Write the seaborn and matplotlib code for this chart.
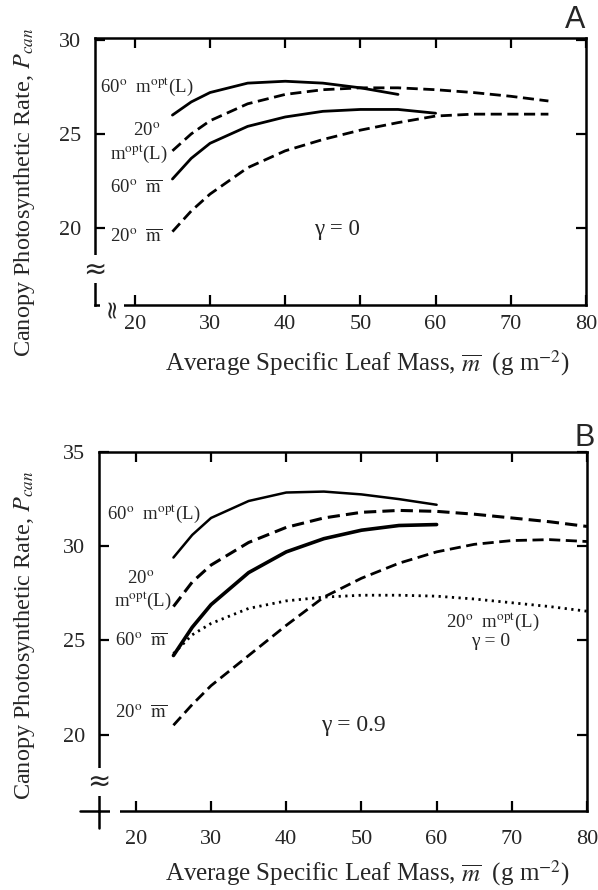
import numpy as np
import pandas as pd
import matplotlib
matplotlib.use("Agg")
import matplotlib.pyplot as plt
import matplotlib.transforms as mtransforms
import seaborn as sns

sns.set_style("ticks")
plt.rcParams['font.family'] = ['Liberation Serif', 'DejaVu Serif']
plt.rcParams['mathtext.fontset'] = 'stix'

# ---------------- data: panel A (gamma = 0) ----------------
a_opt60_x = [25, 27.5, 30, 35, 40, 45, 50, 55]
a_opt60_y = [26.0, 26.7, 27.2, 27.7, 27.8, 27.7, 27.45, 27.1]
a_opt20_x = [25, 27.5, 30, 35, 40, 45, 50, 55, 60, 65, 70, 75]
a_opt20_y = [24.1, 25.0, 25.7, 26.6, 27.1, 27.35, 27.45, 27.45, 27.35, 27.2, 27.0, 26.75]
a_bar60_x = [25, 27.5, 30, 35, 40, 45, 50, 55, 60]
a_bar60_y = [22.6, 23.7, 24.5, 25.4, 25.9, 26.2, 26.3, 26.3, 26.1]
a_bar20_x = [25, 27.5, 30, 35, 40, 45, 50, 55, 60, 65, 70, 75]
a_bar20_y = [19.8, 20.9, 21.8, 23.2, 24.1, 24.7, 25.2, 25.6, 25.95, 26.05, 26.05, 26.05]

# ---------------- data: panel B (gamma = 0.9) ----------------
b_opt60_x = [25, 27.5, 30, 35, 40, 45, 50, 55, 60]
b_opt60_y = [29.4, 30.6, 31.5, 32.4, 32.85, 32.9, 32.75, 32.5, 32.2]
b_opt20_x = [25, 27.5, 30, 35, 40, 45, 50, 55, 60, 65, 70, 75, 80]
b_opt20_y = [26.8, 28.1, 29.0, 30.2, 31.0, 31.5, 31.8, 31.9, 31.85, 31.7, 31.5, 31.3, 31.05]
b_bar60_x = [25, 27.5, 30, 35, 40, 45, 50, 55, 60]
b_bar60_y = [24.2, 25.7, 26.9, 28.6, 29.7, 30.4, 30.85, 31.1, 31.15]
b_opt20g0_x = [25, 27.5, 30, 35, 40, 45, 50, 55, 60, 65, 70, 75, 80]
b_opt20g0_y = [24.3, 25.3, 25.9, 26.7, 27.1, 27.3, 27.4, 27.4, 27.35, 27.2, 27.0, 26.8, 26.55]
b_bar20_x = [25, 27.5, 30, 35, 40, 45, 50, 55, 60, 65, 70, 75, 80]
b_bar20_y = [20.5, 21.6, 22.6, 24.2, 25.8, 27.3, 28.3, 29.1, 29.7, 30.1, 30.3, 30.35, 30.25]

x_ticks = [20, 30, 40, 50, 60, 70, 80]
a_y_ticks = [20, 25, 30]
b_y_ticks = [20, 25, 30, 35]

ylabel_text = r'Canopy Photosynthetic Rate, $P_{can}$'
xlabel_text = r'Average Specific Leaf Mass, $\overline{m}$  (g m$^{-2}$)'

fig = plt.figure(figsize=(5.98, 8.90), dpi=100)
axA = fig.add_axes([95/598, 1-305/890, (586-95)/598, (305-38)/890])
axB = fig.add_axes([99/598, 1-811/890, (587-99)/598, (811-452)/890])

SOLID = '-'
DASH = (0, (4, 2))
DOT = (0, (0.8, 1.6))

def draw(ax, x, y, ls, lw):
    df = pd.DataFrame({'x': x, 'y': y})
    sns.lineplot(data=df, x='x', y='y', ax=ax, color='black', linestyle=ls,
                 linewidth=lw, errorbar=None, estimator=None, sort=False)

draw(axA, a_opt60_x, a_opt60_y, SOLID, 2.0)
draw(axA, a_opt20_x, a_opt20_y, DASH, 2.0)
draw(axA, a_bar60_x, a_bar60_y, SOLID, 2.0)
draw(axA, a_bar20_x, a_bar20_y, DASH, 2.0)

draw(axB, b_opt60_x, b_opt60_y, SOLID, 1.8)
draw(axB, b_opt20_x, b_opt20_y, DASH, 2.2)
draw(axB, b_bar60_x, b_bar60_y, SOLID, 2.6)
draw(axB, b_opt20g0_x, b_opt20g0_y, DOT, 2.0)
draw(axB, b_bar20_x, b_bar20_y, DASH, 2.0)

def style(ax, ylim, yt, xpad):
    ax.set_xlim(14.7, 80)
    ax.set_ylim(*ylim)
    ax.set_xticks(x_ticks)
    ax.set_yticks(yt)
    ax.tick_params(direction='in', top=True, right=True, length=7, width=1.6,
                   labelsize=16, color='black')
    ax.tick_params(axis='x', pad=xpad)
    ax.tick_params(axis='y', pad=10)
    for s in ax.spines.values():
        s.set_linewidth(1.8)
        s.set_color('black')
        s.set_visible(True)
    ax.set_xlabel(xlabel_text, fontsize=18)
    ax.set_ylabel(ylabel_text, fontsize=17.5)

style(axA, (15.9, 30.1), a_y_ticks, 7)
style(axB, (15.95, 35.0), b_y_ticks, 14)
axB.set_xlim(15.1, 80)

axA.yaxis.set_label_coords(-0.118, 0.423)
axA.xaxis.set_label_coords(0.554, -0.161)
axB.yaxis.set_label_coords(-0.127, 0.49)
axB.xaxis.set_label_coords(0.551, -0.132)

fs = 13.5
# panel A annotations
axA.text(15.3, 27.5, r'60$^{\mathrm{o}}$  m$^{\mathrm{opt}}$(L)', fontsize=fs, ha='left', va='center')
axA.text(21.6, 25.15, r'20$^{\mathrm{o}}$', fontsize=fs, ha='center', va='center')
axA.text(24.3, 23.95, r'm$^{\mathrm{opt}}$(L)', fontsize=fs, ha='right', va='center')
axA.text(23.7, 22.1, r'60$^{\mathrm{o}}$  $\overline{\mathrm{m}}$', fontsize=fs, ha='right', va='center')
axA.text(23.7, 19.5, r'20$^{\mathrm{o}}$  $\overline{\mathrm{m}}$', fontsize=fs, ha='right', va='center')
axA.text(46.9, 19.9, 'γ = 0', fontsize=16.5, ha='center', va='center')

# panel B annotations
axB.text(16.2, 31.75, r'60$^{\mathrm{o}}$  m$^{\mathrm{opt}}$(L)', fontsize=fs, ha='left', va='center')
axB.text(20.7, 28.25, r'20$^{\mathrm{o}}$', fontsize=fs, ha='center', va='center')
axB.text(24.8, 27.1, r'm$^{\mathrm{opt}}$(L)', fontsize=fs, ha='right', va='center')
axB.text(24.2, 24.95, r'60$^{\mathrm{o}}$  $\overline{\mathrm{m}}$', fontsize=fs, ha='right', va='center')
axB.text(24.2, 21.15, r'20$^{\mathrm{o}}$  $\overline{\mathrm{m}}$', fontsize=fs, ha='right', va='center')
axB.text(61.2, 26.0, r'20$^{\mathrm{o}}$  m$^{\mathrm{opt}}$(L)', fontsize=fs, ha='left', va='center')
axB.text(67.2, 24.95, 'γ = 0', fontsize=14, ha='center', va='center')
axB.text(48.9, 20.5, 'γ = 0.9', fontsize=17, ha='center', va='center')

# panel letters
fig.text(575/598, 1-20/890, 'A', fontsize=22, family='Liberation Sans', ha='center', va='center')
fig.text(585/598, 1-438/890, 'B', fontsize=22, family='Liberation Sans', ha='center', va='center')

# axis break marks
tyA = mtransforms.blended_transform_factory(axA.transAxes, axA.transData)
axA.text(0, 17.8, '≈', transform=tyA, fontsize=20, ha='center', va='center',
         family='DejaVu Sans', bbox=dict(facecolor='white', edgecolor='none', pad=0), zorder=10, clip_on=False)
txA = mtransforms.blended_transform_factory(axA.transData, axA.transAxes)
axA.text(16.9, -0.01, '≈', transform=txA, fontsize=18, ha='center', va='center', rotation=90,
         family='DejaVu Sans', bbox=dict(facecolor='white', edgecolor='none', pad=0), zorder=10, clip_on=False)

tyB = mtransforms.blended_transform_factory(axB.transAxes, axB.transData)
axB.text(0, 17.5, '≈', transform=tyB, fontsize=20, ha='center', va='center',
         family='DejaVu Sans', bbox=dict(facecolor='white', edgecolor='none', pad=0), zorder=10, clip_on=False)
txB = mtransforms.blended_transform_factory(axB.transData, axB.transAxes)
axB.plot([16.6, 17.9], [0, 0], transform=txB, color='white', lw=4, clip_on=False, zorder=10,
         solid_capstyle='butt')
axB.plot([0, 0], [0, -0.047], transform=axB.transAxes, color='black', lw=1.8, clip_on=False)
axB.plot([-0.039, 0], [0, 0], transform=axB.transAxes, color='black', lw=1.8, clip_on=False)

fig.savefig('out.png', dpi=100)
